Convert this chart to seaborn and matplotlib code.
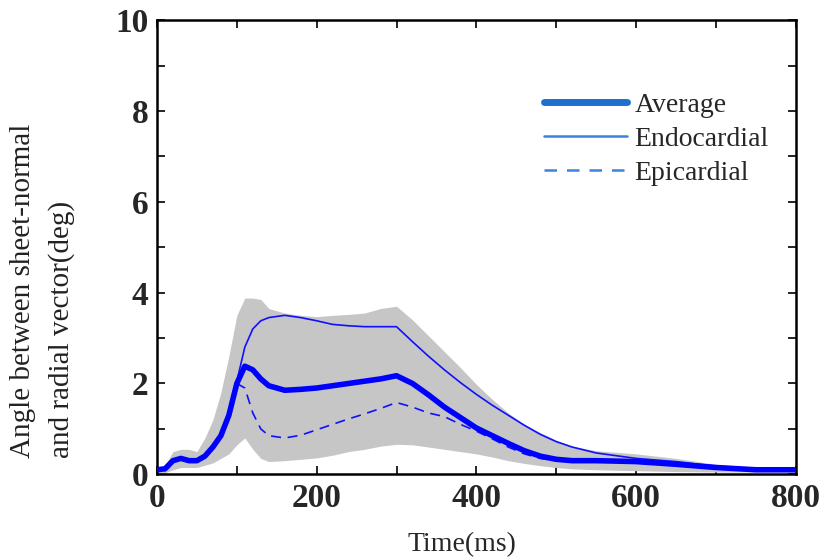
import numpy as np
import pandas as pd
import matplotlib
matplotlib.use("Agg")
import matplotlib.pyplot as plt
from matplotlib.ticker import MultipleLocator
from matplotlib.lines import Line2D
import seaborn as sns

time_ms = [0, 10, 20, 30, 40, 50, 60, 70, 80, 90, 100, 110, 120, 130, 140, 160, 180, 200,
           220, 240, 260, 280, 300, 320, 340, 360, 380, 400, 420, 440, 460, 480, 500,
           520, 550, 600, 650, 700, 750, 800]
average = [0.1, 0.12, 0.3, 0.35, 0.3, 0.3, 0.4, 0.6, 0.85, 1.3, 2.0, 2.38, 2.3, 2.1, 1.95,
           1.85, 1.87, 1.9, 1.95, 2.0, 2.05, 2.1, 2.17, 2.0, 1.75, 1.48, 1.25, 1.02, 0.85,
           0.68, 0.52, 0.4, 0.33, 0.3, 0.3, 0.28, 0.22, 0.15, 0.1, 0.1]
endocardial = [0.1, 0.12, 0.3, 0.35, 0.3, 0.3, 0.4, 0.6, 0.85, 1.3, 2.05, 2.8, 3.2, 3.38,
               3.45, 3.5, 3.45, 3.38, 3.3, 3.27, 3.25, 3.25, 3.25, 2.92, 2.6, 2.3, 2.02,
               1.76, 1.52, 1.3, 1.08, 0.88, 0.72, 0.6, 0.47, 0.35, 0.28, 0.18, 0.12, 0.1]
epicardial = [0.1, 0.12, 0.3, 0.35, 0.3, 0.3, 0.4, 0.6, 0.85, 1.3, 2.0, 1.9, 1.35, 1.0,
              0.85, 0.8, 0.86, 0.98, 1.1, 1.22, 1.33, 1.45, 1.58, 1.48, 1.35, 1.27, 1.1,
              0.95, 0.78, 0.6, 0.45, 0.35, 0.3, 0.28, 0.28, 0.25, 0.2, 0.14, 0.1, 0.1]
band_upper = [0.15, 0.2, 0.5, 0.55, 0.55, 0.5, 0.8, 1.2, 1.8, 2.6, 3.5, 3.88, 3.88, 3.85,
              3.65, 3.55, 3.5, 3.47, 3.5, 3.52, 3.55, 3.65, 3.7, 3.4, 3.05, 2.7, 2.35,
              1.98, 1.65, 1.35, 1.1, 0.92, 0.75, 0.62, 0.52, 0.45, 0.35, 0.22, 0.15, 0.12]
band_lower = [0.02, 0.03, 0.1, 0.15, 0.15, 0.15, 0.2, 0.25, 0.35, 0.45, 0.65, 0.8, 0.55,
              0.35, 0.28, 0.3, 0.33, 0.36, 0.42, 0.5, 0.55, 0.62, 0.66, 0.65, 0.6, 0.55,
              0.5, 0.45, 0.38, 0.3, 0.24, 0.19, 0.15, 0.12, 0.1, 0.08, 0.06, 0.05, 0.05, 0.05]

sns.set_style("ticks")
plt.rcParams["font.family"] = ["Liberation Serif", "DejaVu Serif"]

df = pd.DataFrame({"Time": time_ms, "Average": average,
                   "Endocardial": endocardial, "Epicardial": epicardial})

fig = plt.figure(figsize=(8.22, 5.58), dpi=100)
ax = fig.add_axes([0.191, 0.150, 0.777, 0.814])

ax.fill_between(time_ms, band_lower, band_upper, color="#c6c6c6", linewidth=0, zorder=1)
sns.lineplot(data=df, x="Time", y="Endocardial", ax=ax, color="#1010ff", linewidth=1.2, zorder=3)
sns.lineplot(data=df, x="Time", y="Epicardial", ax=ax, color="#1010ff", linewidth=1.2,
             linestyle=(0, (6, 4)), zorder=3)
sns.lineplot(data=df, x="Time", y="Average", ax=ax, color="#0000ff", linewidth=4.0, zorder=4)

ax.set_xlim(0, 800)
ax.set_ylim(0, 10)
ax.xaxis.set_major_locator(MultipleLocator(200))
ax.xaxis.set_minor_locator(MultipleLocator(100))
ax.yaxis.set_major_locator(MultipleLocator(2))
ax.yaxis.set_minor_locator(MultipleLocator(1))
ax.tick_params(which="both", direction="in", top=True, right=True, length=6, width=1.2,
               color="black")
ax.tick_params(which="major", labelsize=24, pad=6)
for lab in ax.get_xticklabels() + ax.get_yticklabels():
    lab.set_fontweight("bold")
for s in ax.spines.values():
    s.set_linewidth(1.8)
    s.set_color("black")

ax.set_xlabel("Time(ms)", fontsize=20)
ax.xaxis.set_label_coords(0.477, -0.128)
ax.set_ylabel("")
fig.text(0.012, 0.180, "Angle between sheet-normal\nand radial vector(deg)", fontsize=21,
         rotation=90, rotation_mode="anchor", ha="left", va="top", multialignment="left",
         linespacing=1.6, color="#222222")

handles = [Line2D([], [], color="#1f6fd0", linewidth=5),
           Line2D([], [], color="#3a84dc", linewidth=1.8),
           Line2D([], [], color="#3a84dc", linewidth=1.8, linestyle=(0, (5, 4)))]
ax.legend(handles, ["Average", "Endocardial", "Epicardial"], loc="upper left",
          bbox_to_anchor=(0.606, 0.84), frameon=False, fontsize=20, handlelength=3.0,
          handletextpad=0.25, labelspacing=0.3, borderaxespad=0, borderpad=0)

fig.savefig("out.png", dpi=100)
